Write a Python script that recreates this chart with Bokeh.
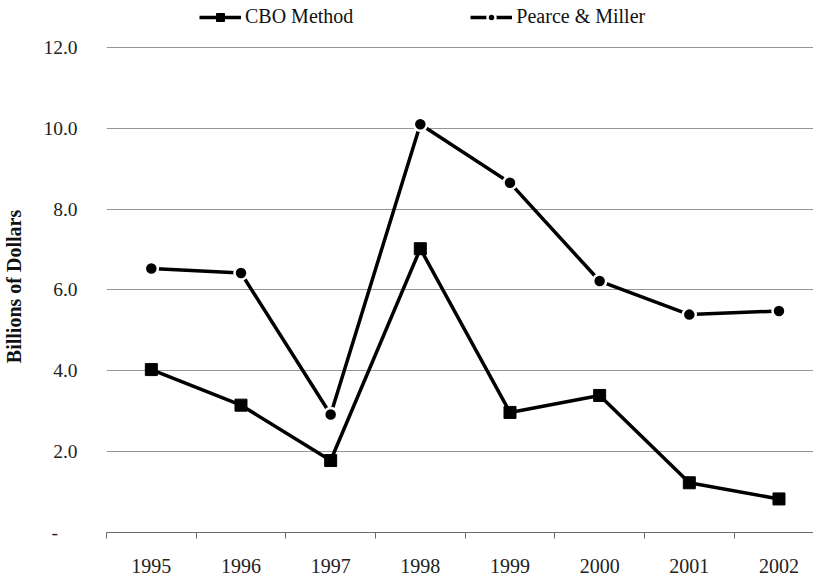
from bokeh.plotting import figure
from bokeh.models import FixedTicker, NumeralTickFormatter, Legend, LegendItem, ColumnDataSource, Range1d
from bokeh.embed import file_html
from bokeh.resources import INLINE

years = ["1995", "1996", "1997", "1998", "1999", "2000", "2001", "2002"]
cbo_method = [4.03, 3.15, 1.78, 7.02, 2.97, 3.39, 1.23, 0.83]
pearce_miller = [6.53, 6.42, 2.92, 10.10, 8.65, 6.22, 5.39, 5.48]
y_ticks = [0, 2, 4, 6, 8, 10, 12]

xs = list(range(len(years)))
src = ColumnDataSource(dict(x=xs, cbo=cbo_method, pm=pearce_miller))

FONT = "Liberation Serif"

p = figure(width=813, height=576, output_backend="svg", toolbar_location=None,
           x_range=Range1d(-0.5, 7.385), y_range=Range1d(0, 13.16),
           min_border_left=96, min_border_right=0, min_border_top=0, min_border_bottom=44)
p.outline_line_color = None
p.background_fill_color = "white"
p.border_fill_color = "white"

# grid
p.xgrid.visible = False
p.ygrid.ticker = FixedTicker(ticks=y_ticks)
p.ygrid.grid_line_color = "#959595"
p.ygrid.grid_line_width = 1

# y axis
p.yaxis.ticker = FixedTicker(ticks=y_ticks)
p.yaxis.formatter = NumeralTickFormatter(format="0.0")
p.yaxis.major_label_overrides = {0: "-\u00a0\u00a0\u00a0\u00a0"}
p.yaxis.axis_line_color = None
p.yaxis.major_tick_line_color = None
p.yaxis.minor_tick_line_color = None
p.yaxis.major_label_standoff = 23
p.yaxis.major_label_text_font = FONT
p.yaxis.major_label_text_font_size = "19.5px"
p.yaxis.major_label_text_color = "#222222"
p.yaxis.axis_label = "Billions of Dollars" + "\u00a0" * 8
p.yaxis.axis_label_text_font = FONT
p.yaxis.axis_label_text_font_style = "bold"
p.yaxis.axis_label_text_font_size = "20px"
p.yaxis.axis_label_text_color = "#111111"
p.yaxis.axis_label_standoff = 15

# x axis
p.xaxis.ticker = FixedTicker(ticks=xs, minor_ticks=[i - 0.5 for i in range(len(years) + 1)])
p.xaxis.major_label_overrides = {i: y for i, y in enumerate(years)}
p.xaxis.axis_line_color = "#6a6a6a"
p.xaxis.axis_line_width = 1
p.xaxis.major_tick_line_color = None
p.xaxis.minor_tick_line_color = "#6a6a6a"
p.xaxis.minor_tick_in = 0
p.xaxis.minor_tick_out = 6
p.xaxis.major_tick_out = 0
p.xaxis.major_tick_in = 0
p.xaxis.major_label_standoff = 20
p.xaxis.major_label_text_font = FONT
p.xaxis.major_label_text_font_size = "20px"
p.xaxis.major_label_text_color = "#222222"

# series
l1 = p.line("x", "cbo", source=src, line_color="black", line_width=3.5)
m1 = p.scatter("x", "cbo", source=src, marker="square", size=12, fill_color="black", line_color="black")
l2 = p.line("x", "pm", source=src, line_color="black", line_width=3.5)
m2 = p.scatter("x", "pm", source=src, marker="circle", size=13, fill_color="black",
               line_color="white", line_width=2.5)

legend = Legend(items=[LegendItem(label="CBO Method", renderers=[l1, m1]),
                       LegendItem(label="Pearce & Miller", renderers=[l2, m2])],
                orientation="horizontal", location=(93, 504),
                glyph_width=42, glyph_height=20, label_height=20, label_standoff=4,
                spacing=117, padding=0, margin=0,
                label_text_font=FONT, label_text_font_size="20px", label_text_color="#111111",
                border_line_color=None, background_fill_alpha=0)
p.add_layout(legend, "center")

open("out.html", "w").write(file_html(p, INLINE))
